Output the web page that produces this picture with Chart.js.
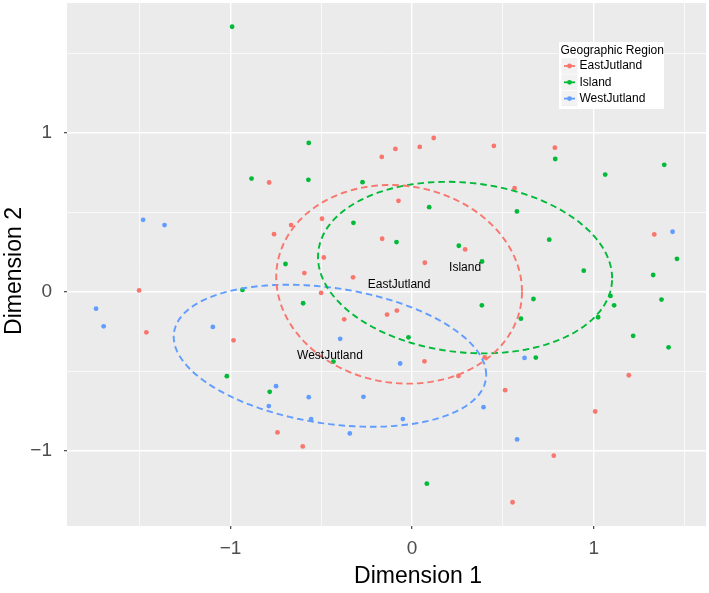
<!DOCTYPE html>
<html><head><meta charset="utf-8">
<script src="https://cdn.jsdelivr.net/npm/chart.js@4/dist/chart.umd.min.js"></script>
<style>html,body{margin:0;padding:0;background:#fff;}canvas{display:block;}</style>
</head><body>
<canvas id="c" width="709" height="593"></canvas>
<script>
// ---- data ----
const groups = ['EastJutland', 'Island', 'WestJutland'];
const groupColors = ['#F8766D', '#00BA38', '#619CFF'];

const eastX = [-0.787,-0.167,-0.092,0.042,0.119,0.450,0.786,0.564,-0.760,-1.503,-1.463,-0.983,-0.075,-0.666,-0.496,-0.165,0.292,-0.486,0.070,-0.593,-0.325,-0.501,-0.084,-0.138,-0.374,0.068,0.400,1.333,-0.741,-0.602,0.255,1.193,0.512,1.008,0.780,0.553];
const eastY = [0.687,0.848,0.898,0.911,0.967,0.917,0.906,0.651,0.362,0.008,-0.256,-0.306,0.572,0.419,0.459,0.333,0.266,0.215,0.182,0.117,0.090,-0.008,-0.119,-0.144,-0.174,-0.438,-0.413,0.360,-0.886,-0.974,-0.530,-0.526,-0.620,-0.754,-1.032,-1.325];

const islandX = [-0.991,-0.884,-0.569,-0.571,-0.273,0.788,1.063,1.388,-0.934,0.094,-0.323,-0.086,0.257,0.385,-0.697,-0.600,0.384,-0.020,-0.433,0.577,0.755,1.458,0.945,1.327,1.092,0.668,1.373,1.112,0.599,1.024,1.217,1.412,0.681,-1.020,-0.784,0.081];
const islandY = [1.667,0.712,0.936,0.704,0.689,0.835,0.737,0.798,0.011,0.532,0.433,0.312,0.289,0.190,0.174,-0.073,-0.086,-0.287,-0.440,0.505,0.327,0.207,0.132,0.105,-0.027,-0.046,-0.050,-0.086,-0.170,-0.161,-0.278,-0.350,-0.415,-0.532,-0.630,-1.208];

const westX = [-1.481,-1.363,-1.740,-1.698,-1.097,-0.396,-0.066,1.434,0.619,-0.749,-0.789,-0.569,-0.268,0.393,-0.556,-0.051,-0.343,0.578];
const westY = [0.452,0.419,-0.107,-0.218,-0.222,-0.297,-0.452,0.377,-0.417,-0.595,-0.720,-0.664,-0.662,-0.727,-0.802,-0.802,-0.892,-0.930];

const xTicks = [-1.5, -1, -0.5, 0, 0.5, 1, 1.5];
const yTicks = [-1.5, -1, -0.5, 0, 0.5, 1, 1.5];
const majorXTicks = [-1, 0, 1];
const majorXLabels = ['\u22121', '0', '1'];
const majorYTicks = [-1, 0, 1];
const majorYLabels = ['\u22121', '0', '1'];
const xTitle = 'Dimension 1';
const yTitle = 'Dimension 2';
const legendTitle = 'Geographic Region';
const ellipseSD = 1;   // ellipses drawn at 1 standard deviation of each group

// ---- helpers ----
const FONT = '"Liberation Sans", Arial, Helvetica, sans-serif';
const seriesX = [eastX, islandX, westX];
const seriesY = [eastY, islandY, westY];

function mean(arr) { return arr.reduce((a,b)=>a+b,0) / arr.length; }

function sdEllipse(xs, ys, scale) {
  const n = xs.length;
  const mx = mean(xs), my = mean(ys);
  let sxx = 0, sxy = 0, syy = 0;
  for (let i = 0; i < n; i++) {
    const dx = xs[i] - mx, dy = ys[i] - my;
    sxx += dx * dx; sxy += dx * dy; syy += dy * dy;
  }
  sxx /= (n - 1); sxy /= (n - 1); syy /= (n - 1);
  const a = Math.sqrt(sxx);
  const b = sxy / a;
  const c = Math.sqrt(syy - b * b);
  const seg = 120, pts = [];
  for (let k = 0; k <= seg; k++) {
    const t = k * 2 * Math.PI / seg;
    const u = Math.cos(t), v = Math.sin(t);
    pts.push({ x: mx + scale * (u * a), y: my + scale * (u * b + v * c) });
  }
  return pts;
}

const allX = [].concat(...seriesX), allY = [].concat(...seriesY);
const xr = Math.max(...allX) - Math.min(...allX);
const yr = Math.max(...allY) - Math.min(...allY);
const xMin = Math.min(...allX) - 0.05 * xr, xMax = Math.max(...allX) + 0.05 * xr;
const yMin = Math.min(...allY) - 0.05 * yr, yMax = Math.max(...allY) + 0.05 * yr;

const datasets = [];
groups.forEach((g, gi) => {
  datasets.push({
    label: g + ' ellipse',
    data: sdEllipse(seriesX[gi], seriesY[gi], ellipseSD),
    showLine: true, pointRadius: 0, pointHoverRadius: 0,
    borderColor: groupColors[gi], borderWidth: 1.9, borderDash: [6.5, 4],
    fill: false, order: 0
  });
});
groups.forEach((g, gi) => {
  datasets.push({
    label: g,
    data: seriesX[gi].map((x, i) => ({ x: x, y: seriesY[gi][i] })),
    showLine: false, pointRadius: 2.4, pointHoverRadius: 2.4,
    backgroundColor: groupColors[gi], borderWidth: 0, order: 1
  });
});

const isMajor = (v, list) => list.some(m => Math.abs(m - v) < 1e-9);

const plotPlugin = {
  id: 'ggpanel',
  beforeDraw(chart) {
    const { ctx, chartArea: a } = chart;
    ctx.save();
    ctx.fillStyle = '#EBEBEB';
    ctx.fillRect(a.left, a.top, a.right - a.left, a.bottom - a.top);
    ctx.restore();
  },
  afterDatasetsDraw(chart) {
    const { ctx, scales } = chart;
    ctx.save();
    ctx.fillStyle = '#000000';
    ctx.font = '12px ' + FONT;
    ctx.textAlign = 'center';
    ctx.textBaseline = 'middle';
    groups.forEach((g, gi) => {
      const px = scales.x.getPixelForValue(mean(seriesX[gi]));
      const py = scales.y.getPixelForValue(mean(seriesY[gi]));
      ctx.fillText(g, px, py);
    });
    ctx.restore();
  },
  afterDraw(chart) {
    const { ctx } = chart;
    ctx.save();
    ctx.fillStyle = '#000000';
    ctx.font = '23px ' + FONT;
    ctx.textAlign = 'center';
    ctx.textBaseline = 'middle';
    ctx.fillText(xTitle, 418, 577);
    ctx.save();
    ctx.translate(15, 271);
    ctx.rotate(-Math.PI / 2);
    ctx.fillText(yTitle, 0, 0);
    ctx.restore();
    const lx = 559, ly = 42, lw = 105, lh = 67;
    ctx.fillStyle = '#FFFFFF';
    ctx.fillRect(lx, ly, lw, lh);
    ctx.fillStyle = '#000000';
    ctx.font = '12px ' + FONT;
    ctx.textAlign = 'left';
    ctx.fillText(legendTitle, 560.5, 51);
    const rowY = [66, 82.3, 98.6];
    groups.forEach((g, gi) => {
      const cy = rowY[gi];
      ctx.fillStyle = '#F2F2F2';
      ctx.fillRect(561.5, cy - 7.8, 16, 15.6);
      ctx.strokeStyle = groupColors[gi];
      ctx.lineWidth = 1.8;
      ctx.beginPath();
      ctx.moveTo(564, cy);
      ctx.lineTo(575, cy);
      ctx.stroke();
      ctx.fillStyle = groupColors[gi];
      ctx.beginPath();
      ctx.arc(569.5, cy, 2.4, 0, Math.PI * 2);
      ctx.fill();
      ctx.fillStyle = '#000000';
      ctx.fillText(g, 579.5, cy);
    });
    ctx.restore();
  }
};

new Chart(document.getElementById('c'), {
  type: 'scatter',
  data: { datasets },
  plugins: [plotPlugin],
  options: {
    responsive: false,
    devicePixelRatio: 1,
    animation: false,
    layout: { padding: { top: 3, right: 3, left: 0, bottom: 0 } },
    plugins: { legend: { display: false }, tooltip: { enabled: false }, title: { display: false } },
    scales: {
      x: {
        type: 'linear', min: xMin, max: xMax,
        afterBuildTicks: s => { s.ticks = xTicks.filter(v => v >= xMin && v <= xMax).map(v => ({ value: v })); },
        afterFit: s => { s.height = 67; s.paddingLeft = 0; s.paddingRight = 0; },
        ticks: {
          autoSkip: false, maxRotation: 0, minRotation: 0, padding: 8, color: '#4D4D4D',
          font: { family: FONT, size: 19 },
          callback: v => { const i = majorXTicks.findIndex(m => Math.abs(m - v) < 1e-9); return i >= 0 ? majorXLabels[i] : ''; }
        },
        grid: {
          color: '#FFFFFF',
          lineWidth: c => (c.tick && isMajor(c.tick.value, majorXTicks)) ? 1.4 : 0.7,
          tickColor: c => (c.tick && isMajor(c.tick.value, majorXTicks)) ? '#333333' : 'rgba(0,0,0,0)',
          tickLength: 3, tickWidth: 1.1
        },
        border: { display: false },
        title: { display: false }
      },
      y: {
        type: 'linear', min: yMin, max: yMax,
        afterBuildTicks: s => { s.ticks = yTicks.filter(v => v >= yMin && v <= yMax).map(v => ({ value: v })); },
        afterFit: s => { s.width = 67; s.paddingTop = 0; s.paddingBottom = 0; },
        ticks: {
          autoSkip: false, padding: 12, color: '#4D4D4D',
          font: { family: FONT, size: 19 },
          callback: v => { const i = majorYTicks.findIndex(m => Math.abs(m - v) < 1e-9); return i >= 0 ? majorYLabels[i] : ''; }
        },
        grid: {
          color: '#FFFFFF',
          lineWidth: c => (c.tick && isMajor(c.tick.value, majorYTicks)) ? 1.4 : 0.7,
          tickColor: c => (c.tick && isMajor(c.tick.value, majorYTicks)) ? '#333333' : 'rgba(0,0,0,0)',
          tickLength: 3, tickWidth: 1.1
        },
        border: { display: false },
        title: { display: false }
      }
    }
  }
});
</script>
</body></html>
